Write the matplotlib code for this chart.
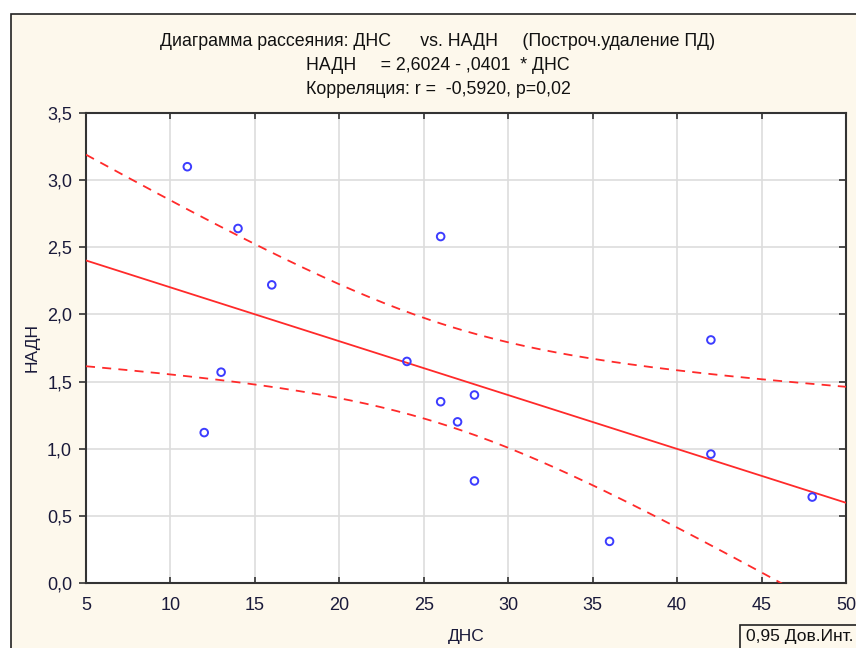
import numpy as np
import matplotlib
matplotlib.use("Agg")
import matplotlib.pyplot as plt
from matplotlib.patches import Rectangle

# данные
dns = [11, 14, 16, 13, 12, 24, 26, 26, 27, 28, 28, 36, 42, 42, 48]
nadh = [3.10, 2.64, 2.22, 1.57, 1.12, 1.65, 2.58, 1.35, 1.20, 1.40, 0.76, 0.31, 1.81, 0.96, 0.64]

intercept = 2.6024
slope = -0.0401
t_crit = 2.160  # t(0.975, df=13)

x_ticks = [5, 10, 15, 20, 25, 30, 35, 40, 45, 50]
y_ticks = [0.0, 0.5, 1.0, 1.5, 2.0, 2.5, 3.0, 3.5]

plt.rcParams['font.family'] = ['Liberation Sans', 'DejaVu Sans']

cream = '#fdf8ec'
fig = plt.figure(figsize=(8.56, 6.48), dpi=100, facecolor='white')

# рамка окна
fig.patches.append(Rectangle((11 / 856, -0.1), 1.2, 1 - 14 / 648 + 0.1,
                             transform=fig.transFigure, facecolor=cream,
                             edgecolor='#222222', linewidth=1.2, zorder=-10))

ax = fig.add_axes([86 / 856, 1 - 583 / 648, 760 / 856, 470 / 648])
ax.set_facecolor('white')

# линия регрессии и 95% доверительные границы
x = np.array(dns, dtype=float)
y = np.array(nadh)
n = len(x)
xm = x.mean()
sxx = ((x - xm) ** 2).sum()
resid = y - (intercept + slope * x)
s = np.sqrt((resid ** 2).sum() / (n - 2))

xx = np.linspace(5, 50, 200)
fit = intercept + slope * xx
hw = t_crit * s * np.sqrt(1 / n + (xx - xm) ** 2 / sxx)

ax.plot(xx, fit, color='#ff2a2a', lw=1.3, zorder=3)
ax.plot(xx, fit + hw, color='#ff2a2a', lw=1.3, ls=(0, (5, 4)), zorder=3)
ax.plot(xx, fit - hw, color='#ff2a2a', lw=1.3, ls=(0, (5, 4)), zorder=3)

ax.scatter(dns, nadh, s=30, facecolors='none', edgecolors='#3c3cff', linewidths=1.4, zorder=4)

ax.set_xlim(5, 50)
ax.set_ylim(0, 3.5)
ax.set_xticks(x_ticks)
ax.set_yticks(y_ticks)
ax.set_xticklabels([str(v) for v in x_ticks])
ax.set_yticklabels([f'{v:.1f}'.replace('.', ',') for v in y_ticks])
ax.grid(True, color='#dddddd', lw=1.2)
ax.set_axisbelow(True)

for sp in ax.spines.values():
    sp.set_color('#333333')
    sp.set_linewidth(1.5)

ax.tick_params(axis='x', direction='in', top=True, length=4, width=1.2,
               labelsize=13, pad=10, colors='#333333', labelcolor='#1a1a3a')
ax.tick_params(axis='y', left=True, right=True, direction='in',
               length=5, width=1.2, labelsize=13, pad=10, colors='#333333',
               labelcolor='#1a1a3a')
# слева засечки наружу, справа внутрь
for t in ax.yaxis.get_major_ticks():
    t.tick1line.set_marker(matplotlib.markers.TICKLEFT)
    t.tick2line.set_marker(matplotlib.markers.TICKLEFT)

ax.set_xlabel('ДНС', fontsize=12.5, labelpad=11, color='#1a1a3a')
ax.set_ylabel('НАДН', fontsize=12.5, labelpad=5, color='#1a1a3a')

title_kw = dict(ha='center', va='center', fontsize=12.8, color='#111111')
fig.text(438 / 856, 1 - 41 / 648,
         'Диаграмма рассеяния: ДНС      vs. НАДН     (Построч.удаление ПД)', **title_kw)
fig.text(438 / 856, 1 - 65 / 648, 'НАДН     = 2,6024 - ,0401  * ДНС', **title_kw)
fig.text(438 / 856, 1 - 89 / 648, 'Корреляция: r =  -0,5920, p=0,02', **title_kw)

# подпись доверительного интервала
fig.patches.append(Rectangle((740 / 856, -0.05), 0.3, 0.05 + 23 / 648,
                             transform=fig.transFigure, facecolor=cream,
                             edgecolor='#222222', linewidth=1.2, zorder=5))
fig.text(746 / 856, 1 - 636 / 648, '0,95 Дов.Инт.', ha='left', va='center',
         fontsize=12.5, color='#111111', zorder=6)

fig.savefig('out.png', dpi=100, facecolor=fig.get_facecolor())
